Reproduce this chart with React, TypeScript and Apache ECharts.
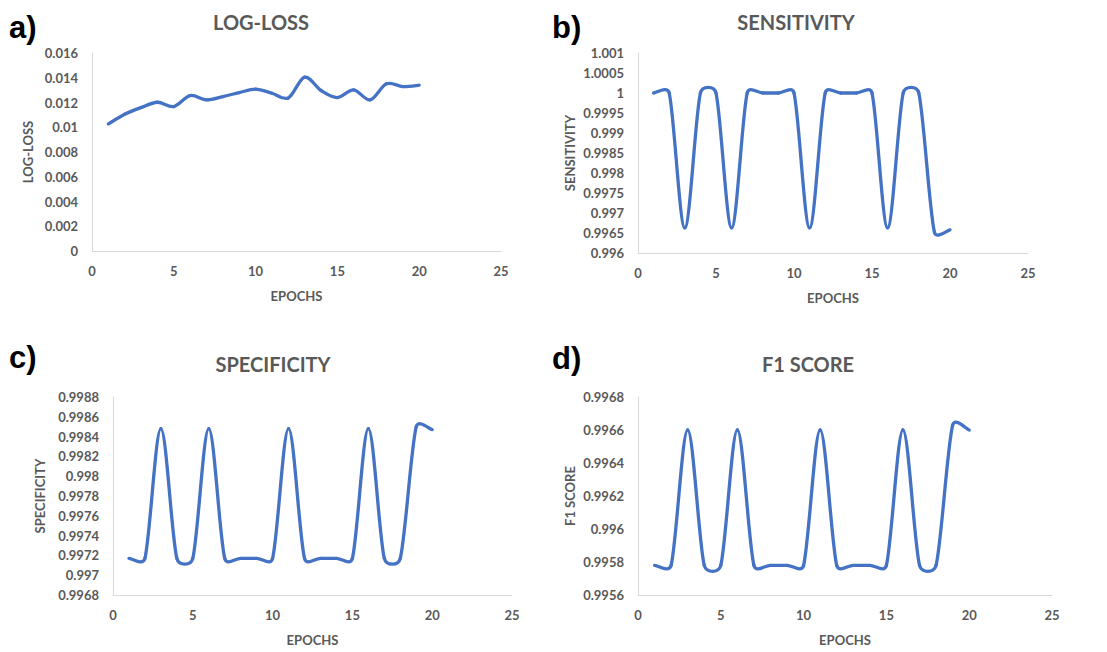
import React, { useEffect, useRef } from "react";
import * as echarts from "echarts";

const epochs = [1, 2, 3, 4, 5, 6, 7, 8, 9, 10, 11, 12, 13, 14, 15, 16, 17, 18, 19, 20];

const logLoss = [0.01027, 0.01105, 0.01159, 0.01202, 0.01167, 0.01256, 0.01221, 0.01248, 0.0128, 0.01308,
  0.01275, 0.01237, 0.01405, 0.01297, 0.0124, 0.01302, 0.01221, 0.01351, 0.01329, 0.0134];

const sensitivity = [1, 1, 0.99663, 1, 1, 0.99663, 1, 1, 1, 1,
  0.99663, 1, 1, 1, 1, 0.99663, 1, 1, 0.99652, 0.99658];

const specificity = [0.99717, 0.99717, 0.99848, 0.99717, 0.99717, 0.99848, 0.99717, 0.99717, 0.99717, 0.99717,
  0.99848, 0.99717, 0.99717, 0.99717, 0.99717, 0.99848, 0.99717, 0.99717, 0.9985, 0.99847];

const f1Score = [0.99578, 0.99578, 0.9966, 0.99578, 0.99578, 0.9966, 0.99578, 0.99578, 0.99578, 0.99578,
  0.9966, 0.99578, 0.99578, 0.99578, 0.99578, 0.9966, 0.99578, 0.99578, 0.99663, 0.9966];

const panels = [
  { letter: "a)", title: "LOG-LOSS", yName: "LOG-LOSS", values: logLoss, min: 0, max: 0.016, interval: 0.002 },
  { letter: "b)", title: "SENSITIVITY", yName: "SENSITIVITY", values: sensitivity, min: 0.996, max: 1.001, interval: 0.0005 },
  { letter: "c)", title: "SPECIFICITY", yName: "SPECIFICITY", values: specificity, min: 0.9968, max: 0.9988, interval: 0.0002 },
  { letter: "d)", title: "F1 SCORE", yName: "F1 SCORE", values: f1Score, min: 0.9956, max: 0.9968, interval: 0.0002 },
];

const xTicks = { min: 0, max: 25, interval: 5 };

// layout
const grids = [
  { left: 92, top: 53, width: 409, height: 198, nameGap: 58 },
  { left: 638, top: 53, width: 390, height: 200, nameGap: 62 },
  { left: 113, top: 397, width: 399, height: 198, nameGap: 67 },
  { left: 638, top: 397, width: 414, height: 198, nameGap: 62 },
];
const titlePos = [
  { x: 261, y: 22 },
  { x: 796, y: 22 },
  { x: 273, y: 364 },
  { x: 808, y: 364 },
];
const letterPos = [
  { x: 9, y: 27 },
  { x: 552, y: 27 },
  { x: 9, y: 357 },
  { x: 552, y: 358 },
];

const FONT = "Lato";
const GRAY = "#595959";
const AXIS = "#d9d9d9";
const LINE = "#4472C4";
const TENSION = 1 / 6;

function fmt(v: number) {
  return String(parseFloat(v.toFixed(6)));
}

// spreadsheet-style smoothed segment between data points i and i+1 (pixel space via api.coord)
function makeRenderItem(values: number[]) {
  return (params: any, api: any) => {
    const i = params.dataIndex;
    const n = values.length;
    if (i >= n - 1) return null;
    const pt = (k: number) => {
      const j = Math.max(0, Math.min(n - 1, k));
      return api.coord([epochs[j], values[j]]);
    };
    const p0 = pt(i - 1);
    const p1 = pt(i);
    const p2 = pt(i + 1);
    const p3 = pt(i + 2);
    const dist = (a: number[], b: number[]) => Math.hypot(a[0] - b[0], a[1] - b[1]);
    const d12 = dist(p1, p2);
    const d02 = dist(p0, p2);
    const d13 = dist(p1, p3);
    let f1 = TENSION;
    let f2 = TENSION;
    if (d02 * f1 > d12 / 2) f1 = d12 / 2 / d02;
    if (d13 * f2 > d12 / 2) f2 = d12 / 2 / d13;
    const c1 = [p1[0] + (p2[0] - p0[0]) * f1, p1[1] + (p2[1] - p0[1]) * f1];
    const c2 = [p2[0] - (p3[0] - p1[0]) * f2, p2[1] - (p3[1] - p1[1]) * f2];
    return {
      type: "bezierCurve",
      shape: {
        x1: p1[0], y1: p1[1],
        x2: p2[0], y2: p2[1],
        cpx1: c1[0], cpy1: c1[1],
        cpx2: c2[0], cpy2: c2[1],
      },
      style: { stroke: LINE, lineWidth: 3.3, fill: "none", lineCap: "round" },
    };
  };
}

export default function App() {
  const ref = useRef<HTMLDivElement>(null);
  useEffect(() => {
    if (!ref.current) return;
    const chart = echarts.init(ref.current, undefined, { renderer: "svg" });
    const option: any = {
      animation: false,
      backgroundColor: "#ffffff",
      grid: grids.map((g) => ({ left: g.left, top: g.top, width: g.width, height: g.height, containLabel: false })),
      xAxis: grids.map((g, i) => ({
        type: "value",
        gridIndex: i,
        min: xTicks.min,
        max: xTicks.max,
        interval: xTicks.interval,
        name: "EPOCHS",
        nameLocation: "middle",
        nameGap: 38,
        nameTextStyle: { color: GRAY, fontFamily: FONT, fontWeight: "bold", fontSize: 13 },
        axisLine: { show: true, lineStyle: { color: AXIS, width: 1 } },
        axisTick: { show: false },
        splitLine: { show: false },
        axisLabel: { color: GRAY, fontFamily: FONT, fontWeight: "bold", fontSize: 13, margin: 13 },
      })),
      yAxis: panels.map((p, i) => ({
        type: "value",
        gridIndex: i,
        min: p.min,
        max: p.max,
        interval: p.interval,
        name: p.yName,
        nameLocation: "middle",
        nameGap: grids[i].nameGap,
        nameRotate: 90,
        nameTextStyle: { color: GRAY, fontFamily: FONT, fontWeight: "bold", fontSize: 13 },
        axisLine: { show: true, lineStyle: { color: AXIS, width: 1 } },
        axisTick: { show: false },
        splitLine: { show: false },
        axisLabel: { color: GRAY, fontFamily: FONT, fontWeight: "bold", fontSize: 13, margin: 14, formatter: fmt },
      })),
      series: panels.map((p, i) => ({
        type: "custom",
        name: p.title,
        coordinateSystem: "cartesian2d",
        xAxisIndex: i,
        yAxisIndex: i,
        clip: false,
        encode: { x: 0, y: 1 },
        data: epochs.map((e, k) => [e, p.values[k]]),
        renderItem: makeRenderItem(p.values),
      })),
      graphic: [
        ...panels.map((p, i) => ({
          type: "text",
          x: titlePos[i].x,
          y: titlePos[i].y,
          style: {
            text: p.title,
            fill: GRAY,
            font: `bold 20px ${FONT}`,
            textAlign: "center",
            textVerticalAlign: "middle",
          },
        })),
        ...panels.map((p, i) => ({
          type: "text",
          x: letterPos[i].x,
          y: letterPos[i].y,
          style: {
            text: p.letter,
            fill: "#000000",
            font: `bold 31px "Liberation Sans"`,
            textAlign: "left",
            textVerticalAlign: "middle",
          },
        })),
      ],
    };
    chart.setOption(option);
    return () => chart.dispose();
  }, []);
  return (
    <div
      ref={ref}
      style={{ position: "absolute", left: 0, top: 0, width: 1107, height: 652 }}
    />
  );
}
